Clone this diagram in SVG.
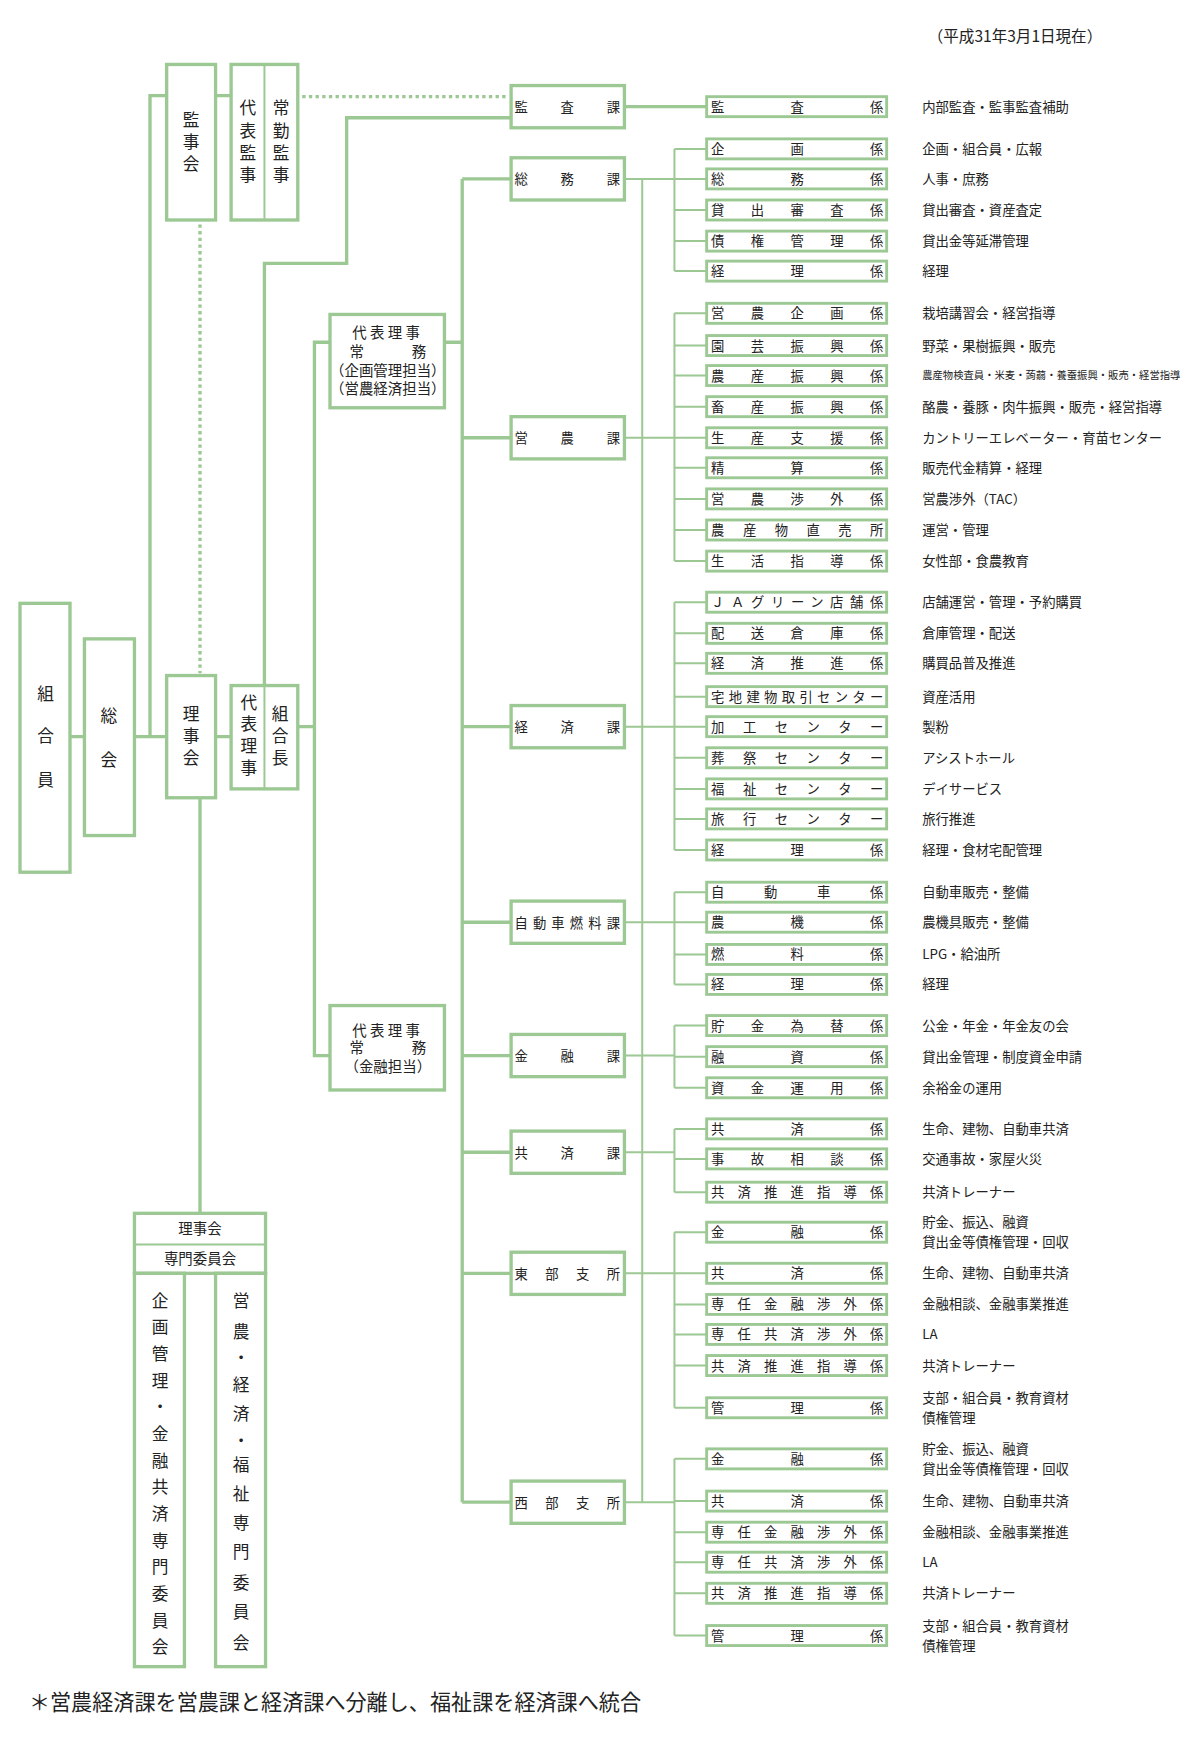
<svg xmlns="http://www.w3.org/2000/svg" width="1200" height="1745" viewBox="0 0 1200 1745">
<style>
text{font-family:"Noto Sans CJK JP","Noto Sans",sans-serif;fill:#222}
.b{fill:#fff;stroke:#9cc894;stroke-width:3}
.kb{fill:#fff;stroke:#9cc894;stroke-width:2.6}
.l{fill:none;stroke:#9cc894;stroke-width:3}
.t{fill:none;stroke:#9cc894;stroke-width:1.8}
.d{fill:none;stroke:#9cc894;stroke-width:3;stroke-dasharray:3 3}
.kt{font-size:12px}
.ds{font-size:12px}
.v{font-size:15px;text-anchor:middle}
.c{font-size:13px;text-anchor:middle}
</style>
<rect width="1200" height="1745" fill="#fff"/>
<g transform="scale(1.1111)">
<text x="835" y="38" font-size="14">（平成31年3月1日現在）</text>
<g id="connectors">
<path class="l" d="M63 663H76M121 663H150M135 663V86H150M194 86H208M194 663H208M180 718V1092M238 617V237H312V106H460M268 654H283M297 308H283V950H297M400 308H416M416 161V1352M416 161H460M416 394H460M416 654H460M416 830H460M416 950H460M416 1037H460M416 1146H460M416 1352H460M562 96H636"/>
<path class="d" d="M272 87H458M180 202V606"/>
<path class="t" d="M578 161V1352"/>
<path class="t" d="M562 161H607M607 134V244M607 134H636M607 161H636M607 189H636M607 217H636M607 244H636"/>
<path class="t" d="M562 394H607M607 282V505M607 282H636M607 311H636M607 338H636M607 366H636M607 394H636M607 421H636M607 449H636M607 477H636M607 505H636"/>
<path class="t" d="M562 654H607M607 542V765M607 542H636M607 570H636M607 597H636M607 627H636M607 654H636M607 682H636M607 710H636M607 737H636M607 765H636"/>
<path class="t" d="M562 830H607M607 803V886M607 803H636M607 830H636M607 859H636M607 886H636"/>
<path class="t" d="M562 950H607M607 923V979M607 923H636M607 951H636M607 979H636"/>
<path class="t" d="M562 1037H607M607 1016V1073M607 1016H636M607 1043H636M607 1073H636"/>
<path class="t" d="M562 1146H607M607 1109V1267M607 1109H636M607 1146H636M607 1174H636M607 1201H636M607 1229H636M607 1267H636"/>
<path class="t" d="M562 1352H607M607 1313V1472M607 1313H636M607 1351H636M607 1379H636M607 1406H636M607 1434H636M607 1472H636"/>
</g>
<g id="kumiaiin"><rect class="b" x="18" y="543" width="45" height="242"/><text class="v" x="41" y="630">組</text><text class="v" x="41" y="668">合</text><text class="v" x="41" y="707">員</text></g>
<g id="soukai"><rect class="b" x="76" y="575" width="45" height="177"/><text class="v" x="98" y="650">総</text><text class="v" x="98" y="689">会</text></g>
<g id="rijikai"><rect class="b" x="150" y="608" width="44" height="110"/><text class="v" x="172" y="648">理</text><text class="v" x="172" y="668">事</text><text class="v" x="172" y="688">会</text></g>
<g id="daihyoriji"><rect class="b" x="208" y="617" width="60" height="93"/><path class="t" d="M238 618V709"/><text class="v" x="224" y="638">代</text><text class="v" x="224" y="657">表</text><text class="v" x="224" y="677">理</text><text class="v" x="224" y="697">事</text><text class="v" x="252" y="648">組</text><text class="v" x="252" y="668">合</text><text class="v" x="252" y="688">長</text></g>
<g id="kanjikai"><rect class="b" x="150" y="58" width="44" height="140"/><text class="v" x="172" y="113">監</text><text class="v" x="172" y="133">事</text><text class="v" x="172" y="153">会</text></g>
<g id="kanji"><rect class="b" x="208" y="58" width="60" height="140"/><path class="t" d="M238 59V197"/><text class="v" x="223" y="103">代</text><text class="v" x="223" y="123">表</text><text class="v" x="223" y="143">監</text><text class="v" x="223" y="163">事</text><text class="v" x="253" y="103">常</text><text class="v" x="253" y="123">勤</text><text class="v" x="253" y="143">監</text><text class="v" x="253" y="163">事</text></g>
<g id="jomu1"><rect class="b" x="297" y="283" width="103" height="84"/><text class="c" x="349" y="304" letter-spacing="3">代表理事</text><text class="c" x="321" y="321">常</text><text class="c" x="377" y="321">務</text><text class="c" x="349" y="338">（企画管理担当）</text><text class="c" x="349" y="355">（営農経済担当）</text></g>
<g id="jomu2"><rect class="b" x="297" y="905" width="103" height="76"/><text class="c" x="349" y="932" letter-spacing="3">代表理事</text><text class="c" x="321" y="948">常</text><text class="c" x="377" y="948">務</text><text class="c" x="349" y="965">（金融担当）</text></g>
<g id="ka-kansa"><rect class="b" x="460" y="77" width="102" height="38"/><text class="kt" x="463" y="101" textLength="95" lengthAdjust="spacing">監査課</text></g>
<g id="ka-somu"><rect class="b" x="460" y="142" width="102" height="38"/><text class="kt" x="463" y="166" textLength="95" lengthAdjust="spacing">総務課</text></g>
<g id="ka-eino"><rect class="b" x="460" y="375" width="102" height="38"/><text class="kt" x="463" y="399" textLength="95" lengthAdjust="spacing">営農課</text></g>
<g id="ka-keizai"><rect class="b" x="460" y="635" width="102" height="38"/><text class="kt" x="463" y="659" textLength="95" lengthAdjust="spacing">経済課</text></g>
<g id="ka-jidosha"><rect class="b" x="460" y="811" width="102" height="38"/><text class="kt" x="463" y="835" textLength="95" lengthAdjust="spacing">自動車燃料課</text></g>
<g id="ka-kinyu"><rect class="b" x="460" y="931" width="102" height="38"/><text class="kt" x="463" y="955" textLength="95" lengthAdjust="spacing">金融課</text></g>
<g id="ka-kyosai"><rect class="b" x="460" y="1018" width="102" height="38"/><text class="kt" x="463" y="1042" textLength="95" lengthAdjust="spacing">共済課</text></g>
<g id="ka-tobu"><rect class="b" x="460" y="1127" width="102" height="38"/><text class="kt" x="463" y="1151" textLength="95" lengthAdjust="spacing">東部支所</text></g>
<g id="ka-seibu"><rect class="b" x="460" y="1333" width="102" height="38"/><text class="kt" x="463" y="1357" textLength="95" lengthAdjust="spacing">西部支所</text></g>
<g id="kakari">
<g id="k1"><rect class="kb" x="636" y="87" width="162" height="18"/><text class="kt" x="640" y="100.5" textLength="155" lengthAdjust="spacing">監査係</text><text class="ds" x="830" y="100.5">内部監査・監事監査補助</text></g>
<g id="k2"><rect class="kb" x="636" y="125" width="162" height="18"/><text class="kt" x="640" y="138.5" textLength="155" lengthAdjust="spacing">企画係</text><text class="ds" x="830" y="138.5">企画・組合員・広報</text></g>
<g id="k3"><rect class="kb" x="636" y="152" width="162" height="18"/><text class="kt" x="640" y="165.5" textLength="155" lengthAdjust="spacing">総務係</text><text class="ds" x="830" y="165.5">人事・庶務</text></g>
<g id="k4"><rect class="kb" x="636" y="180" width="162" height="18"/><text class="kt" x="640" y="193.5" textLength="155" lengthAdjust="spacing">貸出審査係</text><text class="ds" x="830" y="193.5">貸出審査・資産査定</text></g>
<g id="k5"><rect class="kb" x="636" y="208" width="162" height="18"/><text class="kt" x="640" y="221.5" textLength="155" lengthAdjust="spacing">債権管理係</text><text class="ds" x="830" y="221.5">貸出金等延滞管理</text></g>
<g id="k6"><rect class="kb" x="636" y="235" width="162" height="18"/><text class="kt" x="640" y="248.5" textLength="155" lengthAdjust="spacing">経理係</text><text class="ds" x="830" y="248.5">経理</text></g>
<g id="k7"><rect class="kb" x="636" y="273" width="162" height="18"/><text class="kt" x="640" y="286.5" textLength="155" lengthAdjust="spacing">営農企画係</text><text class="ds" x="830" y="286.5">栽培講習会・経営指導</text></g>
<g id="k8"><rect class="kb" x="636" y="302" width="162" height="18"/><text class="kt" x="640" y="315.5" textLength="155" lengthAdjust="spacing">園芸振興係</text><text class="ds" x="830" y="315.5">野菜・果樹振興・販売</text></g>
<g id="k9"><rect class="kb" x="636" y="329" width="162" height="18"/><text class="kt" x="640" y="342.5" textLength="155" lengthAdjust="spacing">農産振興係</text><text x="830" y="341.5" font-size="9.3">農産物検査員・米麦・蒟蒻・養蚕振興・販売・経営指導</text></g>
<g id="k10"><rect class="kb" x="636" y="357" width="162" height="18"/><text class="kt" x="640" y="370.5" textLength="155" lengthAdjust="spacing">畜産振興係</text><text class="ds" x="830" y="370.5">酪農・養豚・肉牛振興・販売・経営指導</text></g>
<g id="k11"><rect class="kb" x="636" y="385" width="162" height="18"/><text class="kt" x="640" y="398.5" textLength="155" lengthAdjust="spacing">生産支援係</text><text class="ds" x="830" y="398.5">カントリーエレベーター・育苗センター</text></g>
<g id="k12"><rect class="kb" x="636" y="412" width="162" height="18"/><text class="kt" x="640" y="425.5" textLength="155" lengthAdjust="spacing">精算係</text><text class="ds" x="830" y="425.5">販売代金精算・経理</text></g>
<g id="k13"><rect class="kb" x="636" y="440" width="162" height="18"/><text class="kt" x="640" y="453.5" textLength="155" lengthAdjust="spacing">営農渉外係</text><text class="ds" x="830" y="453.5">営農渉外（TAC）</text></g>
<g id="k14"><rect class="kb" x="636" y="468" width="162" height="18"/><text class="kt" x="640" y="481.5" textLength="155" lengthAdjust="spacing">農産物直売所</text><text class="ds" x="830" y="481.5">運営・管理</text></g>
<g id="k15"><rect class="kb" x="636" y="496" width="162" height="18"/><text class="kt" x="640" y="509.5" textLength="155" lengthAdjust="spacing">生活指導係</text><text class="ds" x="830" y="509.5">女性部・食農教育</text></g>
<g id="k16"><rect class="kb" x="636" y="533" width="162" height="18"/><text class="kt" x="640" y="546.5" textLength="155" lengthAdjust="spacing">ＪＡグリーン店舗係</text><text class="ds" x="830" y="546.5">店舗運営・管理・予約購買</text></g>
<g id="k17"><rect class="kb" x="636" y="561" width="162" height="18"/><text class="kt" x="640" y="574.5" textLength="155" lengthAdjust="spacing">配送倉庫係</text><text class="ds" x="830" y="574.5">倉庫管理・配送</text></g>
<g id="k18"><rect class="kb" x="636" y="588" width="162" height="18"/><text class="kt" x="640" y="601.5" textLength="155" lengthAdjust="spacing">経済推進係</text><text class="ds" x="830" y="601.5">購買品普及推進</text></g>
<g id="k19"><rect class="kb" x="636" y="618" width="162" height="18"/><text class="kt" x="640" y="631.5" textLength="155" lengthAdjust="spacing">宅地建物取引センター</text><text class="ds" x="830" y="631.5">資産活用</text></g>
<g id="k20"><rect class="kb" x="636" y="645" width="162" height="18"/><text class="kt" x="640" y="658.5" textLength="155" lengthAdjust="spacing">加工センター</text><text class="ds" x="830" y="658.5">製粉</text></g>
<g id="k21"><rect class="kb" x="636" y="673" width="162" height="18"/><text class="kt" x="640" y="686.5" textLength="155" lengthAdjust="spacing">葬祭センター</text><text class="ds" x="830" y="686.5">アシストホール</text></g>
<g id="k22"><rect class="kb" x="636" y="701" width="162" height="18"/><text class="kt" x="640" y="714.5" textLength="155" lengthAdjust="spacing">福祉センター</text><text class="ds" x="830" y="714.5">デイサービス</text></g>
<g id="k23"><rect class="kb" x="636" y="728" width="162" height="18"/><text class="kt" x="640" y="741.5" textLength="155" lengthAdjust="spacing">旅行センター</text><text class="ds" x="830" y="741.5">旅行推進</text></g>
<g id="k24"><rect class="kb" x="636" y="756" width="162" height="18"/><text class="kt" x="640" y="769.5" textLength="155" lengthAdjust="spacing">経理係</text><text class="ds" x="830" y="769.5">経理・食材宅配管理</text></g>
<g id="k25"><rect class="kb" x="636" y="794" width="162" height="18"/><text class="kt" x="640" y="807.5" textLength="155" lengthAdjust="spacing">自動車係</text><text class="ds" x="830" y="807.5">自動車販売・整備</text></g>
<g id="k26"><rect class="kb" x="636" y="821" width="162" height="18"/><text class="kt" x="640" y="834.5" textLength="155" lengthAdjust="spacing">農機係</text><text class="ds" x="830" y="834.5">農機具販売・整備</text></g>
<g id="k27"><rect class="kb" x="636" y="850" width="162" height="18"/><text class="kt" x="640" y="863.5" textLength="155" lengthAdjust="spacing">燃料係</text><text class="ds" x="830" y="863.5">LPG・給油所</text></g>
<g id="k28"><rect class="kb" x="636" y="877" width="162" height="18"/><text class="kt" x="640" y="890.5" textLength="155" lengthAdjust="spacing">経理係</text><text class="ds" x="830" y="890.5">経理</text></g>
<g id="k29"><rect class="kb" x="636" y="914" width="162" height="18"/><text class="kt" x="640" y="927.5" textLength="155" lengthAdjust="spacing">貯金為替係</text><text class="ds" x="830" y="927.5">公金・年金・年金友の会</text></g>
<g id="k30"><rect class="kb" x="636" y="942" width="162" height="18"/><text class="kt" x="640" y="955.5" textLength="155" lengthAdjust="spacing">融資係</text><text class="ds" x="830" y="955.5">貸出金管理・制度資金申請</text></g>
<g id="k31"><rect class="kb" x="636" y="970" width="162" height="18"/><text class="kt" x="640" y="983.5" textLength="155" lengthAdjust="spacing">資金運用係</text><text class="ds" x="830" y="983.5">余裕金の運用</text></g>
<g id="k32"><rect class="kb" x="636" y="1007" width="162" height="18"/><text class="kt" x="640" y="1020.5" textLength="155" lengthAdjust="spacing">共済係</text><text class="ds" x="830" y="1020.5">生命、建物、自動車共済</text></g>
<g id="k33"><rect class="kb" x="636" y="1034" width="162" height="18"/><text class="kt" x="640" y="1047.5" textLength="155" lengthAdjust="spacing">事故相談係</text><text class="ds" x="830" y="1047.5">交通事故・家屋火災</text></g>
<g id="k34"><rect class="kb" x="636" y="1064" width="162" height="18"/><text class="kt" x="640" y="1077.5" textLength="155" lengthAdjust="spacing">共済推進指導係</text><text class="ds" x="830" y="1077.5">共済トレーナー</text></g>
<g id="k35"><rect class="kb" x="636" y="1100" width="162" height="18"/><text class="kt" x="640" y="1113.5" textLength="155" lengthAdjust="spacing">金融係</text><text class="ds" x="830" y="1104.5">貯金、振込、融資</text><text class="ds" x="830" y="1122.5">貸出金等債権管理・回収</text></g>
<g id="k36"><rect class="kb" x="636" y="1137" width="162" height="18"/><text class="kt" x="640" y="1150.5" textLength="155" lengthAdjust="spacing">共済係</text><text class="ds" x="830" y="1150.5">生命、建物、自動車共済</text></g>
<g id="k37"><rect class="kb" x="636" y="1165" width="162" height="18"/><text class="kt" x="640" y="1178.5" textLength="155" lengthAdjust="spacing">専任金融渉外係</text><text class="ds" x="830" y="1178.5">金融相談、金融事業推進</text></g>
<g id="k38"><rect class="kb" x="636" y="1192" width="162" height="18"/><text class="kt" x="640" y="1205.5" textLength="155" lengthAdjust="spacing">専任共済渉外係</text><text class="ds" x="830" y="1205.5">LA</text></g>
<g id="k39"><rect class="kb" x="636" y="1220" width="162" height="18"/><text class="kt" x="640" y="1233.5" textLength="155" lengthAdjust="spacing">共済推進指導係</text><text class="ds" x="830" y="1233.5">共済トレーナー</text></g>
<g id="k40"><rect class="kb" x="636" y="1258" width="162" height="18"/><text class="kt" x="640" y="1271.5" textLength="155" lengthAdjust="spacing">管理係</text><text class="ds" x="830" y="1262.5">支部・組合員・教育資材</text><text class="ds" x="830" y="1280.5">債権管理</text></g>
<g id="k41"><rect class="kb" x="636" y="1304" width="162" height="18"/><text class="kt" x="640" y="1317.5" textLength="155" lengthAdjust="spacing">金融係</text><text class="ds" x="830" y="1308.5">貯金、振込、融資</text><text class="ds" x="830" y="1326.5">貸出金等債権管理・回収</text></g>
<g id="k42"><rect class="kb" x="636" y="1342" width="162" height="18"/><text class="kt" x="640" y="1355.5" textLength="155" lengthAdjust="spacing">共済係</text><text class="ds" x="830" y="1355.5">生命、建物、自動車共済</text></g>
<g id="k43"><rect class="kb" x="636" y="1370" width="162" height="18"/><text class="kt" x="640" y="1383.5" textLength="155" lengthAdjust="spacing">専任金融渉外係</text><text class="ds" x="830" y="1383.5">金融相談、金融事業推進</text></g>
<g id="k44"><rect class="kb" x="636" y="1397" width="162" height="18"/><text class="kt" x="640" y="1410.5" textLength="155" lengthAdjust="spacing">専任共済渉外係</text><text class="ds" x="830" y="1410.5">LA</text></g>
<g id="k45"><rect class="kb" x="636" y="1425" width="162" height="18"/><text class="kt" x="640" y="1438.5" textLength="155" lengthAdjust="spacing">共済推進指導係</text><text class="ds" x="830" y="1438.5">共済トレーナー</text></g>
<g id="k46"><rect class="kb" x="636" y="1463" width="162" height="18"/><text class="kt" x="640" y="1476.5" textLength="155" lengthAdjust="spacing">管理係</text><text class="ds" x="830" y="1467.5">支部・組合員・教育資材</text><text class="ds" x="830" y="1485.5">債権管理</text></g>
</g>
<g id="senmon">
<rect class="b" x="121" y="1092" width="118" height="54"/><path class="t" d="M122 1120H238"/>
<text class="c" x="180" y="1111">理事会</text><text class="c" x="180" y="1138">専門委員会</text>
<rect class="b" x="121" y="1146" width="45" height="354"/><rect class="b" x="194" y="1146" width="45" height="354"/>
<text class="v" x="144" y="1176">企</text><text class="v" x="144" y="1200">画</text><text class="v" x="144" y="1224">管</text><text class="v" x="144" y="1248">理</text><text class="v" x="144" y="1272">・</text><text class="v" x="144" y="1296">金</text><text class="v" x="144" y="1320">融</text><text class="v" x="144" y="1344">共</text><text class="v" x="144" y="1368">済</text><text class="v" x="144" y="1392">専</text><text class="v" x="144" y="1416">門</text><text class="v" x="144" y="1440">委</text><text class="v" x="144" y="1464">員</text><text class="v" x="144" y="1488">会</text>
<text class="v" x="217" y="1176">営</text><text class="v" x="217" y="1204">農</text><text class="v" x="217" y="1228">・</text><text class="v" x="217" y="1252">経</text><text class="v" x="217" y="1278">済</text><text class="v" x="217" y="1302">・</text><text class="v" x="217" y="1324">福</text><text class="v" x="217" y="1350">祉</text><text class="v" x="217" y="1376">専</text><text class="v" x="217" y="1402">門</text><text class="v" x="217" y="1430">委</text><text class="v" x="217" y="1456">員</text><text class="v" x="217" y="1484">会</text>
</g>
<text x="26" y="1539" font-size="19">＊営農経済課を営農課と経済課へ分離し、福祉課を経済課へ統合</text>
</g>
</svg>
